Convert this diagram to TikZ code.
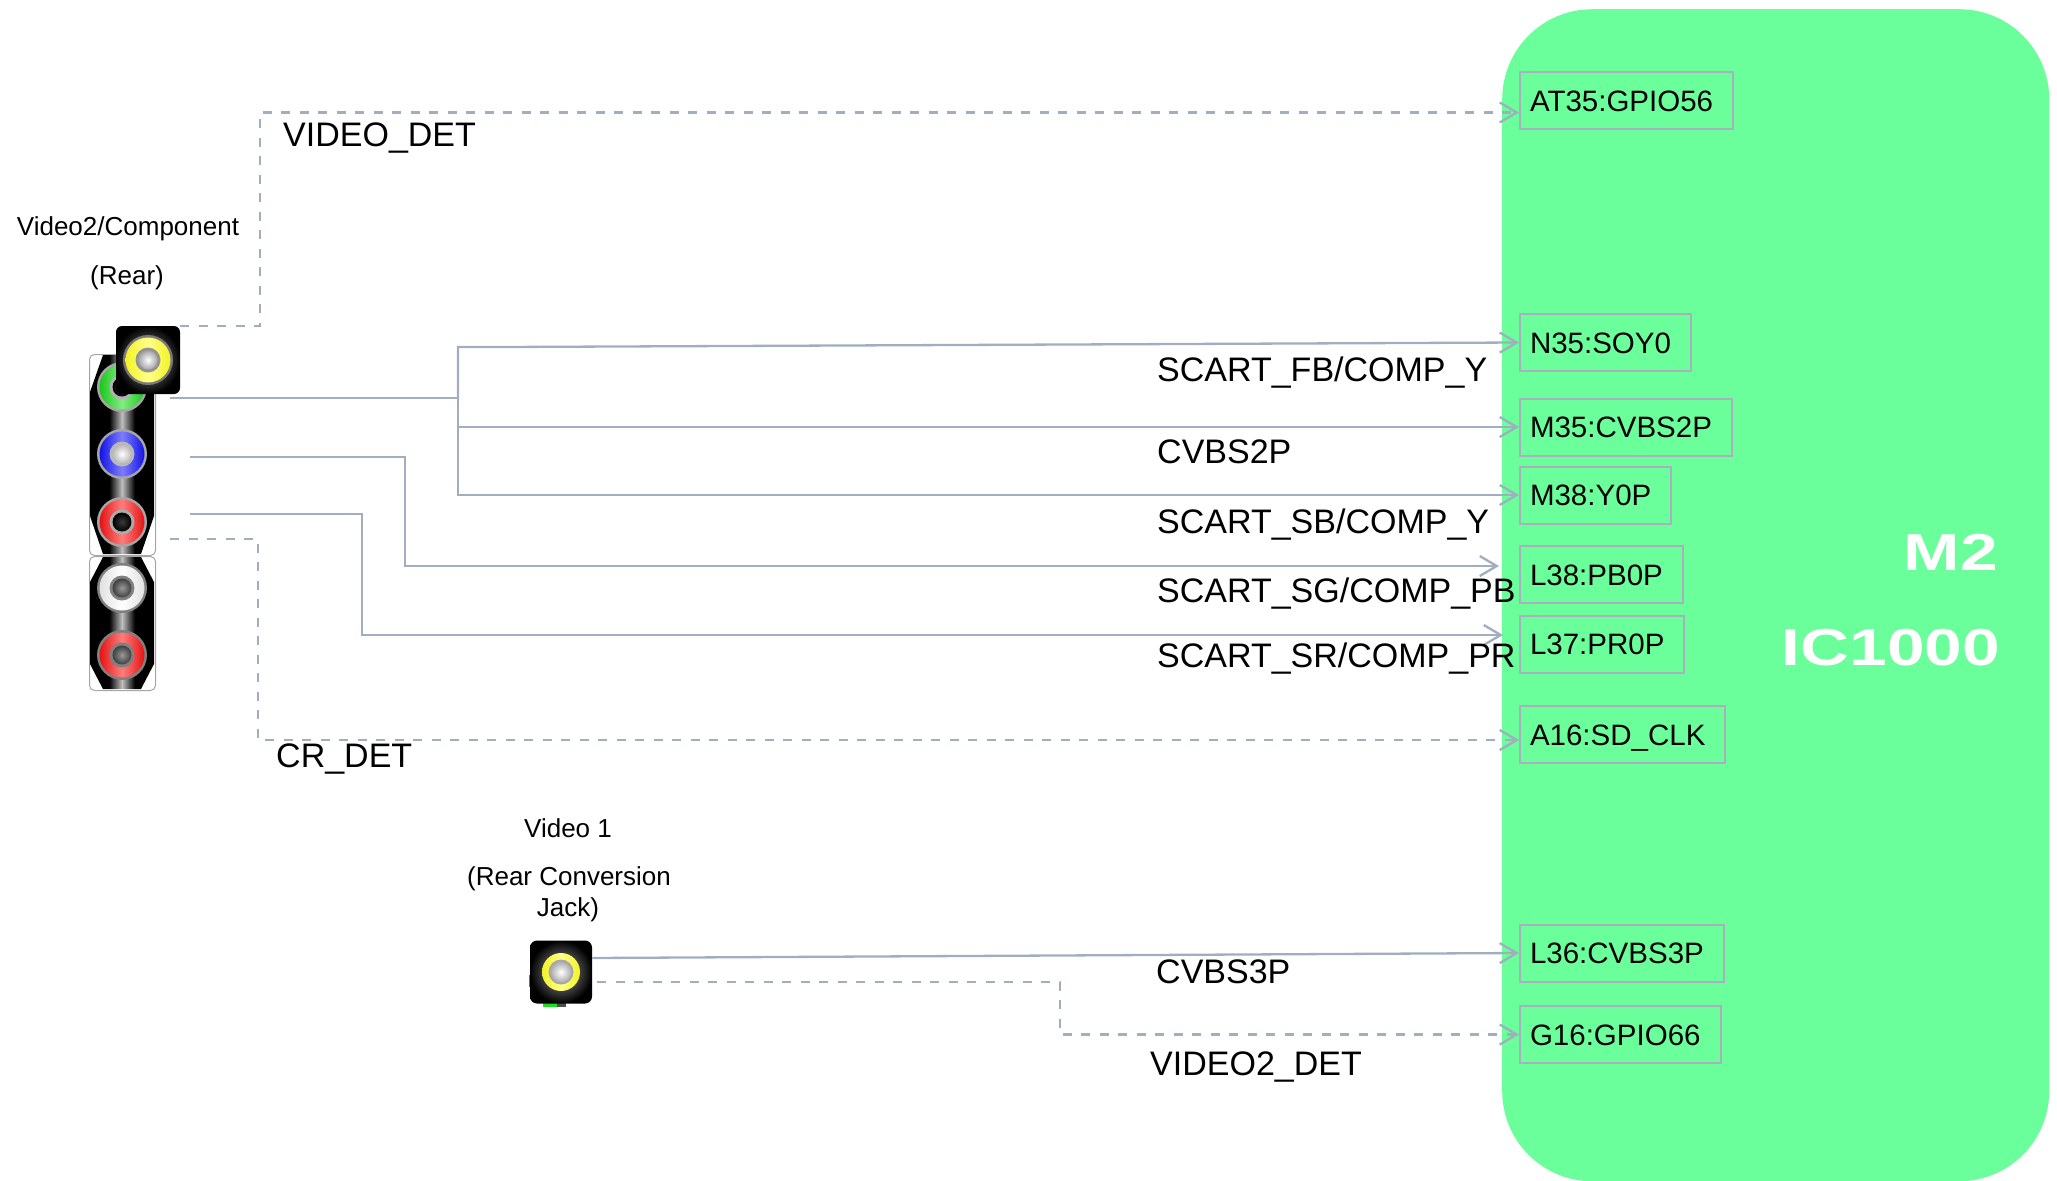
\documentclass[tikz,border=0pt]{standalone}
\usepackage{fontspec}
\setmainfont{Liberation Sans}
\usepackage{graphicx}
\usetikzlibrary{arrows.meta,calc}

\definecolor{chipgreen}{RGB}{106,255,154}
\definecolor{wire}{RGB}{160,174,191}
\definecolor{pinedge}{RGB}{170,174,190}
\definecolor{jgreen}{RGB}{30,220,30}
\definecolor{jblue}{RGB}{20,20,250}
\definecolor{jred}{RGB}{250,20,20}
\definecolor{jyellow}{RGB}{255,255,40}

% black jack panel with a bright vertical sheen in the middle
\pgfdeclarehorizontalshading{barrel}{100bp}{color(0bp)=(black); color(25bp)=(black);
  color(40bp)=(black); color(50bp)=(white!75!black); color(60bp)=(black);
  color(75bp)=(black); color(100bp)=(black)}

% one RCA socket: name, centre, rim, ring edge, ring sheen, inner ring, centre shading
\newcommand{\rcajack}[7]{%
  \node[circle, inner sep=0pt, minimum size=50pt, fill=#3] (#1) at (#2) {};
  \shade[left color=#4, right color=#4, middle color=#5] (#1.center) circle[radius=22.5pt];
  \fill[#6] (#1.center) circle[radius=12.5pt];
  \shade[#7] (#1.center) circle[radius=9.5pt];
}

\tikzset{
  sig/.style={draw=wire, line width=2.3pt},
  det/.style={sig, dash pattern=on 9pt off 9.5pt},
  tip/.style={-{Straight Barb[length=17pt,width=20pt]}},
  pinbox/.style={draw=pinedge, line width=2pt, minimum height=57pt, inner xsep=10pt,
    inner ysep=0pt, text height=21.5pt, text depth=0pt, anchor=west,
    font=\fontsize{29.5}{34}\selectfont},
  netlabel/.style={anchor=base west, inner sep=0pt, font=\fontsize{34}{40}\selectfont},
  caption/.style={anchor=base, inner sep=0pt, font=\fontsize{26}{30}\selectfont},
  chiptext/.style={anchor=base east, inner sep=0pt, text=white,
    font=\bfseries\fontsize{52}{60}\selectfont},
  jackpanel/.style={draw=gray!70, line width=1pt, rounded corners=5pt, fill=white,
    minimum width=66pt, inner sep=0pt, anchor=north west},
}

\begin{document}
\begin{tikzpicture}[x=1pt,y=-1pt]
\useasboundingbox (0,0) rectangle (2057,1181);

% ---------- the M2 chip ----------
\node[fill=chipgreen, rounded corners=90pt, minimum width=547pt, minimum height=1172pt,
  inner sep=0pt, anchor=north west] (chip) at (1502,9) {};
\node[chiptext] (chipname) at (1998,570) {\scalebox{1.3}[1]{M2}};
\node[chiptext] (chipref) at (2000,665) {\scalebox{1.3}[1]{IC1000}};

% ---------- chip pins ----------
\node[pinbox] (at35) at (1519,100.5) {AT35:GPIO56\hspace*{10pt}};
\node[pinbox] (n35)  at (1519,342.5) {N35:SOY0\hspace*{10pt}};
\node[pinbox] (m35)  at (1519,427)   {M35:CVBS2P\hspace*{10pt}};
\node[pinbox] (m38)  at (1519,495)   {M38:Y0P\hspace*{10pt}};
\node[pinbox] (l38)  at (1519,574.5) {L38:PB0P\hspace*{10pt}};
\node[pinbox] (l37)  at (1519,644)   {L37:PR0P\hspace*{10pt}};
\node[pinbox] (a16)  at (1519,734.5) {A16:SD\_CLK\hspace*{10pt}};
\node[pinbox] (l36)  at (1519,953)   {L36:CVBS3P\hspace*{10pt}};
\node[pinbox] (g16)  at (1519,1034.5){G16:GPIO66\hspace*{10pt}};

% ---------- Video2 / component jack block ----------
\node[jackpanel, minimum height=201pt] (comp) at (89,354) {};
\shade[shading=barrel] (103,355) -- (141,355) -- (154,392) -- (154,516) -- (141,554)
  -- (103,554) -- (90,516) -- (90,392) -- cycle;
\node[jackpanel, minimum height=134pt] (audio) at (89,556) {};
\shade[shading=barrel] (103,557) -- (141,557) -- (154,582) -- (154,664) -- (141,689)
  -- (103,689) -- (90,664) -- (90,582) -- cycle;

\rcajack{jg}{122,387}{gray!70}{jgreen!90!black}{jgreen!55!white}{gray!60}{inner color=gray!50!black, outer color=black}
\rcajack{jb}{122,454}{gray!70}{jblue!92!black}{jblue!55!white}{gray!55}{inner color=white, outer color=gray!55}
\rcajack{jr}{122,522}{gray!70}{jred!92!black}{jred!55!white}{gray!65}{inner color=gray!45!black, outer color=black}
\rcajack{jw}{122,588}{gray}{white!88!black}{white}{gray}{inner color=gray!80, outer color=black!75}
\rcajack{jl}{122,655}{gray}{jred!92!black}{jred!55!white}{gray}{inner color=gray!80, outer color=black!75}

\node[rounded corners=6pt, minimum width=64pt, minimum height=68pt, inner sep=0pt,
  inner color=gray!80, outer color=black] (yel) at (148,360) {};
\rcajack{jy}{148,360}{gray!95!black}{jyellow!95!black}{jyellow!55!white}{gray!85}{inner color=white, outer color=gray!70}

\node[caption] (capcomp)  at (128,235) {Video2/Component};
\node[caption] (capcompb) at (127,284) {(Rear)};

% ---------- Video 1 jack ----------
\fill[jgreen] (543,1003) rectangle (557,1007);
\fill[gray!60!black] (557,1003) rectangle (566,1007);
\fill[jgreen!80!black] (529,975) rectangle (532,987);
\node[rounded corners=7pt, minimum width=62pt, minimum height=63pt, inner sep=0pt,
  inner color=gray!75, outer color=black] (vone) at (561,972) {};
\shade[left color=jyellow!95!black, right color=jyellow!95!black, middle color=jyellow!55!white]
  (vone.center) circle[radius=19pt];
\fill[gray!70] (vone.center) circle[radius=12.5pt];
\shade[inner color=white, outer color=gray!65] (vone.center) circle[radius=10.5pt];

\node[caption] (capv1)  at (568,837) {Video 1};
\node[caption] (capv1b) at (569,885) {(Rear Conversion};
\node[caption] (capv1c) at (568,916) {Jack)};

% ---------- connections ----------
\coordinate (gout)  at (170,398);
\coordinate (split) at (458,398);
\coordinate (bout)  at (190,457);
\coordinate (rout)  at (190,514);
\coordinate (crout) at (170,539);

\draw[det,tip] (yel.north east) -- ++(80,0) |- ([yshift=-12pt]at35.west);
\draw[sig] (gout) -- (split);
\draw[sig,tip] (split) -- ++(0,-51) -- ++(45,0) -- (n35.west);
\draw[sig,tip] (split) |- (m35.west);
\draw[sig,tip] (split) |- (m38.west);
\draw[sig,tip] (bout) -- ++(215,0) |- ([xshift=-20pt,yshift=8.5pt]l38.west);
\draw[sig,tip] (rout) -- ++(172,0) |- ([xshift=-16pt,yshift=9pt]l37.west);
\draw[det,tip] (crout) -- ++(88,0) |- ([yshift=-5.5pt]a16.west);
\draw[sig,tip] ([yshift=14pt]vone.east) -- (l36.west);
\draw[det,tip] ([xshift=5pt,yshift=-10pt]vone.east) -- ++(463,0) |- (g16.west);

% ---------- net names ----------
\node[netlabel] (nvdet)  at (283,146)  {VIDEO\_DET};
\node[netlabel] (nfb)    at (1157,381) {SCART\_FB/COMP\_Y};
\node[netlabel] (ncv2)   at (1157,463) {CVBS2P};
\node[netlabel] (nsb)    at (1157,533) {SCART\_SB/COMP\_Y};
\node[netlabel] (nsg)    at (1157,602) {SCART\_SG/COMP\_PB};
\node[netlabel] (nsr)    at (1157,667) {SCART\_SR/COMP\_PR};
\node[netlabel] (ncrdet) at (276,767)  {CR\_DET};
\node[netlabel] (ncv3)   at (1156,983) {CVBS3P};
\node[netlabel] (nv2det) at (1150,1075){VIDEO2\_DET};
\end{tikzpicture}
\end{document}
